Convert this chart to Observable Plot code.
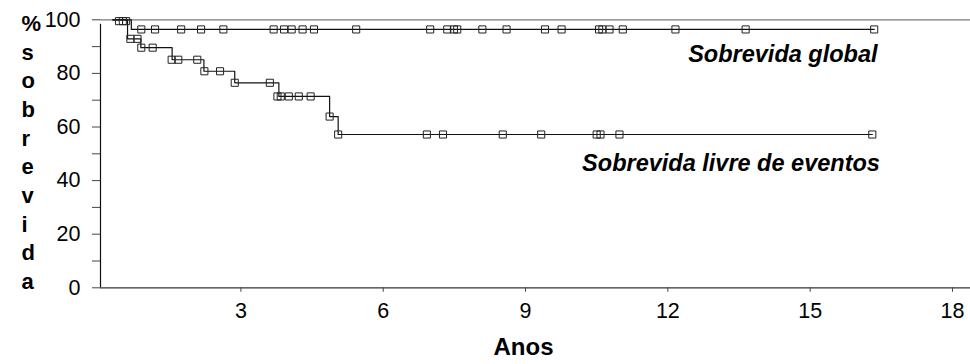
<!DOCTYPE html>
<html><head><meta charset="utf-8">
<script src="https://cdn.jsdelivr.net/npm/d3@7"></script>
<script src="https://cdn.jsdelivr.net/npm/@observablehq/plot@0.6"></script>
<style>
html,body{margin:0;padding:0;background:#fff;}
#chart svg{display:block;}
</style></head><body><div id="chart"></div>
<script>
// Sobrevida global: step curve (time in years, % survival)
const globalTimes = [0.3, 0.69, 16.35];
const globalSurv  = [100, 96.4, 96.4];
// censor marks for sobrevida global
const globalMarkTimes = [0.43, 0.51, 0.58, 0.90, 1.19, 1.74, 2.16, 2.63, 3.69, 3.91, 4.07, 4.30, 4.54, 5.43, 6.99, 7.35, 7.49, 7.56, 8.09, 8.60, 9.41, 9.76, 10.55, 10.62, 10.77, 11.05, 12.16, 13.64, 16.35];
const globalMarkSurv  = [99.5, 99.5, 99.5, 96.4, 96.4, 96.4, 96.4, 96.4, 96.4, 96.4, 96.4, 96.4, 96.4, 96.4, 96.4, 96.4, 96.4, 96.4, 96.4, 96.4, 96.4, 96.4, 96.4, 96.4, 96.4, 96.4, 96.4, 96.4, 96.4];
// Sobrevida livre de eventos
const efTimes = [0.3, 0.61, 0.89, 1.55, 2.22, 2.87, 3.80, 4.87, 5.05, 16.31];
const efSurv  = [100, 92.9, 89.6, 85.1, 80.8, 76.5, 71.4, 63.9, 57.2, 57.2];
const efMarkTimes = [0.67, 0.82, 0.90, 1.14, 1.54, 1.68, 2.08, 2.23, 2.56, 2.87, 3.61, 3.77, 3.84, 4.01, 4.22, 4.47, 4.87, 5.05, 6.92, 7.26, 8.52, 9.33, 10.50, 10.58, 10.98, 16.31];
const efMarkSurv  = [92.9, 92.9, 89.6, 89.6, 85.1, 85.1, 85.1, 80.8, 80.8, 76.5, 76.5, 71.4, 71.4, 71.4, 71.4, 71.4, 63.9, 57.2, 57.2, 57.2, 57.2, 57.2, 57.2, 57.2, 57.2, 57.2];

const yTicks  = [0, 10, 20, 30, 40, 50, 60, 70, 80, 90, 100];
const yLabels = ["0", "", "20", "", "40", "", "60", "", "80", "", "100"];
const xTicks  = [3, 6, 9, 12, 15, 18];
const xLabels = ["3", "6", "9", "12", "15", "18"];
const yTitle = "%sobrevida";
const xTitle = "Anos";
const seriesNames = ["Sobrevida global", "Sobrevida livre de eventos"];

const toRows = (ts, ss) => ts.map((t, i) => ({t, s: ss[i]}));
const font = "'Liberation Sans', Arial, Helvetica, sans-serif";

const plot = Plot.plot({
  width: 970, height: 364,
  marginLeft: 100, marginRight: 0, marginTop: 19.3, marginBottom: 76.7,
  style: {fontFamily: font, color: "black", background: "white", overflow: "visible"},
  x: {domain: [0.04, 18.38]},
  y: {domain: [0, 100]},
  marks: [
    Plot.ruleY([100], {stroke: "#7a7a7a", strokeWidth: 1.3}),
    Plot.ruleY([0], {stroke: "#333", strokeWidth: 1.2}),
    Plot.ruleX([0.04], {y1: 0, y2: 100, insetBottom: -4.5, stroke: "#111", strokeWidth: 1.2}),
    Plot.axisY({ticks: yTicks, tickFormat: d => yLabels[yTicks.indexOf(d)], tickSize: 8, tickPadding: 12, fontSize: 21.5, label: null, stroke: "#444"}),
    Plot.axisX({ticks: xTicks, tickFormat: d => xLabels[xTicks.indexOf(d)], tickSize: 4.5, tickPadding: 10, fontSize: 21.5, label: null, stroke: "#444"}),
    Plot.line(toRows(globalTimes, globalSurv), {x: "t", y: "s", curve: "step-after", stroke: "#111", strokeWidth: 1.2}),
    Plot.line(toRows(efTimes, efSurv), {x: "t", y: "s", curve: "step-after", stroke: "#111", strokeWidth: 1.2}),
    Plot.dot(toRows(globalMarkTimes, globalMarkSurv), {x: "t", y: "s", symbol: "square", r: 4, fill: "none", stroke: "#222", strokeWidth: 1}),
    Plot.dot(toRows(efMarkTimes, efMarkSurv), {x: "t", y: "s", symbol: "square", r: 4, fill: "none", stroke: "#222", strokeWidth: 1}),
    Plot.text([seriesNames[0]], {text: d => d, x: 16.42, y: 84.2, textAnchor: "end", lineAnchor: "bottom", fontSize: 23.5, fontWeight: "bold", fontStyle: "italic", fill: "black"}),
    Plot.text([seriesNames[1]], {text: d => d, x: 16.47, y: 43.4, textAnchor: "end", lineAnchor: "bottom", fontSize: 23.5, fontWeight: "bold", fontStyle: "italic", fill: "black"}),
    Plot.text([xTitle], {text: d => d, frameAnchor: "bottom", dx: -12, dy: 67.5, fontSize: 24, fontWeight: "bold", fill: "black"}),
    Plot.text([yTitle], {text: d => d.split("").join("\n"), frameAnchor: "left", dx: -79, dy: -3, lineHeight: 1.305, fontSize: 22, fontWeight: "bold", fill: "black"})
  ]
});
document.getElementById("chart").appendChild(plot);
</script></body></html>
